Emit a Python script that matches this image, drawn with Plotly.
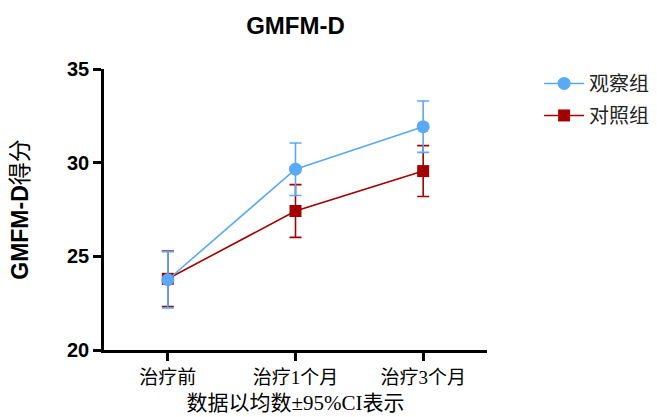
import plotly.graph_objects as go

# Time points and group results (mean with 95% CI half-width)
time_points = ["治疗前", "治疗1个月", "治疗3个月"]
obs_mean = [23.75, 29.65, 31.92]
obs_ci = [1.5, 1.4, 1.37]
ctrl_mean = [23.8, 27.42, 29.55]
ctrl_ci = [1.48, 1.41, 1.36]

y_ticks = [20, 25, 30, 35]

blue = "#5AA9F6"
red = "#A30000"

fig = go.Figure()

fig.add_trace(go.Scatter(
    x=time_points, y=ctrl_mean, name="对照组", mode="lines+markers",
    line=dict(color=red, width=1.6),
    marker=dict(symbol="square", size=12, color=red),
    error_y=dict(type="data", array=ctrl_ci, visible=True, color=red,
                 thickness=1.6, width=6),
    legendrank=2, legendgroup="ctrl",
))
fig.add_trace(go.Scatter(
    x=time_points, y=obs_mean, name="观察组", mode="lines+markers",
    line=dict(color=blue, width=1.6),
    marker=dict(symbol="circle", size=13, color=blue),
    error_y=dict(type="data", array=obs_ci, visible=True, color=blue,
                 thickness=1.6, width=6),
    legendrank=1, legendgroup="obs",
))

fig.update_layout(
    width=657, height=417,
    margin=dict(l=104, r=170, t=69, b=67, autoexpand=False),
    paper_bgcolor="white", plot_bgcolor="white",
    title=dict(text="<b>GMFM-D</b>", x=(104 + 487) / 2 / 657, xanchor="center",
               y=1 - 26 / 417, yanchor="middle",
               font=dict(family="Liberation Sans, Arial", size=24, color="black")),
    legend=dict(x=1.136, y=1.018, xanchor="left", yanchor="top",
                font=dict(family="Noto Sans CJK SC", size=20, color="#222"),
                bgcolor="rgba(0,0,0,0)", tracegroupgap=3, itemwidth=40),
    showlegend=True,
)

fig.update_xaxes(
    type="category", range=[-0.5, 2.5], automargin=False,
    showline=True, linecolor="black", linewidth=2.5,
    ticks="outside", ticklen=8, tickwidth=2.5, tickcolor="black",
    showgrid=False, zeroline=False,
    tickfont=dict(family="Liberation Serif, Noto Sans CJK SC", size=19, color="black"),
    title=dict(text="数据以均数±95%CI表示", standoff=9,
               font=dict(family="Liberation Serif, Noto Sans CJK SC", size=21, color="black")),
)
fig.update_yaxes(
    range=[20, 35], tickvals=y_ticks, automargin=False,
    showline=True, linecolor="black", linewidth=2.5,
    ticks="outside", ticklen=8, tickwidth=2.5, tickcolor="black",
    showgrid=False, zeroline=False,
    tickfont=dict(family="Liberation Sans, Arial", size=20, color="black", weight="bold"),
    title=dict(text="<b>GMFM-D</b>得分", standoff=32,
               font=dict(family="Liberation Sans, Noto Sans CJK SC", size=23, color="black")),
)

fig.write_html("out.html")
